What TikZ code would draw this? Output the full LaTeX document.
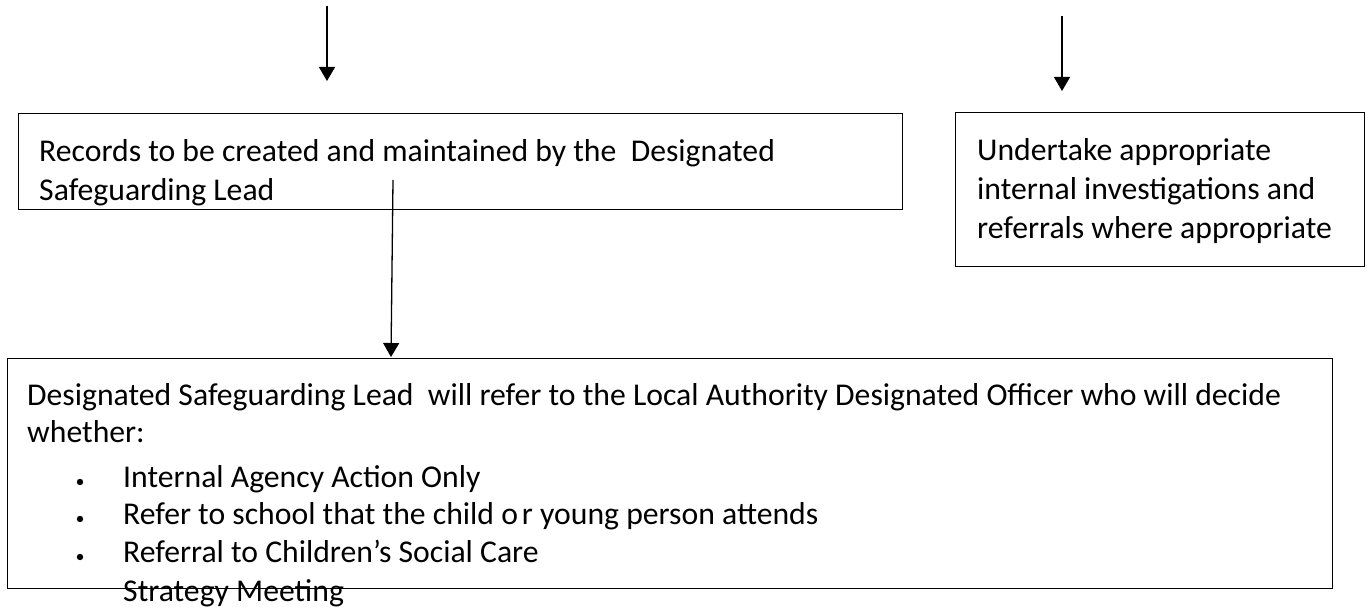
\documentclass[tikz,border=0pt]{standalone}
\usepackage{fontspec}
\setmainfont{Carlito}
\usetikzlibrary{arrows.meta}
\tikzset{
  box/.style={draw=black, line width=1.3pt, rectangle, inner sep=0pt, anchor=north west},
  txt/.style={anchor=base west, inner sep=0pt, font=\fontsize{31.7}{39}\selectfont},
  arr/.style={line width=1.3pt, -{Triangle[length=14pt,width=16pt]}},
  dot/.style={fill=black}
}
\begin{document}
\begin{tikzpicture}[x=1pt,y=-1pt]
\useasboundingbox (0,0) rectangle (1372,615);
% boxes
\node[box, minimum width=884pt, minimum height=96pt] (b1) at (18,113) {};
\node[box, minimum width=409pt, minimum height=154pt] (b2) at (955,112) {};
\node[box, minimum width=1325pt, minimum height=230pt] (b3) at (7,358) {};
% texts box 1
\node[txt] (t11) at (39,161) {Records to be created and maintained by the \ Designated};
\node[txt] (t12) at (39,200) {Safeguarding Lead};
% texts box 2
\node[txt] (t21) at (977,160) {Undertake appropriate};
\node[txt] (t22) at (977,199) {internal investigations and};
\node[txt] (t23) at (977,238) {referrals where appropriate};
% texts box 3
\node[txt] (t31) at (27,405) {Designated Safeguarding Lead \ will refer to the Local Authority Designated Officer who will decide};
\node[txt] (t32) at (27,442) {whether:};
\node[txt] (t33) at (123,487) {Internal Agency Action Only};
\node[txt] (t34) at (123,524) {Refer to school that the child o\kern4pt r young person attends};
\node[txt] (t35) at (123,562) {Referral to Children’s Social Care};
\node[txt] (t36) at (123,601) {Strategy Meeting};
% bullets
\fill[dot] (80,482) circle (3.2pt);
\fill[dot] (80,519) circle (3.2pt);
\fill[dot] (80,557) circle (3.2pt);
% arrows
\coordinate (a1s) at (327,6);
\coordinate (a1e) at (327,81);
\coordinate (a2s) at (1062,16);
\coordinate (a2e) at (1062,91);
\coordinate (a3s) at (393,180);
\coordinate (a3e) at (391,357);
\draw[arr] (a1s) -- (a1e);
\draw[arr] (a2s) -- (a2e);
\draw[arr] (a3s) -- (a3e);
\end{tikzpicture}
\end{document}
